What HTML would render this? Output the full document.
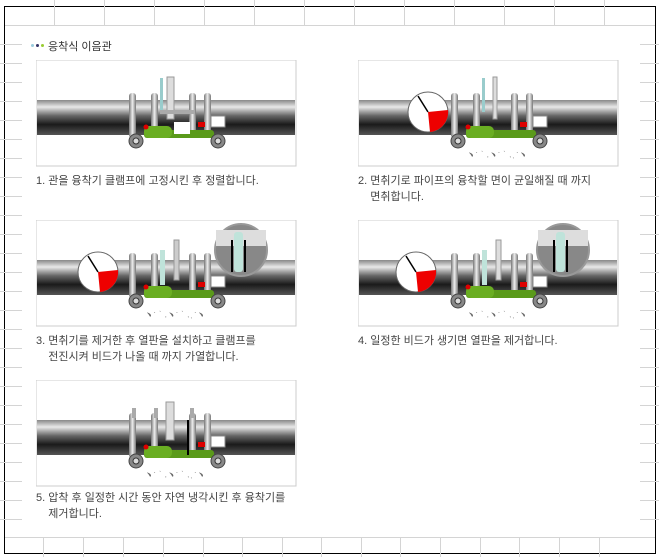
<!DOCTYPE html>
<html><head><meta charset="utf-8"><style>
body{margin:0;width:659px;height:557px;background:#fff;position:relative;overflow:hidden;font-family:"Liberation Sans","Noto Sans CJK KR",sans-serif}
.a{position:absolute}
.hl{position:absolute;height:1px;background:#d4d4d4}
.vl{position:absolute;width:1px;background:#d4d4d4}
.cap{position:absolute;font-size:11px;color:#444;line-height:16px}
svg.p{position:absolute}
</style></head><body>
<svg width="0" height="0" style="position:absolute">
<defs>
<linearGradient id="pg" x1="0" y1="0" x2="0" y2="1">
<stop offset="0" stop-color="#888"/><stop offset="0.2" stop-color="#e8e8e8"/><stop offset="0.45" stop-color="#666"/><stop offset="0.7" stop-color="#1a1a1a"/><stop offset="1" stop-color="#555"/></linearGradient>
<linearGradient id="cg" x1="0" y1="0" x2="1" y2="0"><stop offset="0" stop-color="#777"/><stop offset="0.5" stop-color="#eee"/><stop offset="1" stop-color="#777"/></linearGradient>
<g id="base">
<rect x="0" y="0" width="260" height="106" fill="#fff" stroke="#ccc"/>
<rect x="1" y="40" width="258" height="35" fill="url(#pg)"/>
<rect x="93" y="33" width="7" height="45" rx="3" fill="url(#cg)"/>
<rect x="115" y="33" width="7" height="45" rx="3" fill="url(#cg)"/>
<rect x="153" y="33" width="7" height="45" rx="3" fill="url(#cg)"/>
<rect x="168" y="33" width="7" height="45" rx="3" fill="url(#cg)"/>
<rect x="175" y="56" width="14" height="11" fill="#fff" stroke="#888"/>
<rect x="108" y="70" width="70" height="8" rx="3" fill="#5a9a1a"/>
<rect x="108" y="66" width="28" height="12" rx="5" fill="#6aae22"/>
<circle cx="100" cy="81" r="7" fill="#888" stroke="#444"/><circle cx="100" cy="81" r="3" fill="#ddd" stroke="#333"/>
<circle cx="182" cy="81" r="7" fill="#888" stroke="#444"/><circle cx="182" cy="81" r="3" fill="#ddd" stroke="#333"/>
<circle cx="110" cy="67" r="2.5" fill="#d00"/>
<rect x="162" y="62" width="7" height="5" fill="#d00"/>
</g>
<g id="chips" fill="#777"><text x="110" y="97" font-size="6" fill="#666" font-family="Liberation Sans">﹅ ` ‵ , ﹅ ` ‵ , ˎ ` ﹅</text></g>
<g id="gauge"><circle cx="62" cy="52" r="20" fill="#fff" stroke="#666"/><path d="M62 52 L82 50 A20 20 0 0 1 64 72 Z" fill="#e00"/><line x1="62" y1="52" x2="52" y2="36" stroke="#000" stroke-width="1.5"/></g>
<g id="mag"><circle cx="205" cy="30" r="26" fill="#888" stroke="#999" stroke-width="2"/><rect x="180" y="10" width="50" height="16" fill="#ddd"/><rect x="198" y="12" width="9" height="40" rx="3" fill="#bfe3da"/><line x1="196" y1="20" x2="196" y2="52" stroke="#000" stroke-width="2"/><line x1="209" y1="20" x2="209" y2="52" stroke="#000" stroke-width="2"/></g>
</defs></svg>

<div class="a" style="left:4px;top:6px;width:650px;height:546px;border:1px solid #000"></div>
<div class="hl" style="left:5px;top:25px;width:650px"></div>
<div class="hl" style="left:5px;top:537px;width:650px"></div>
<div class="vl" style="left:54px;top:0;height:25px"></div><div class="vl" style="left:104px;top:0;height:25px"></div><div class="vl" style="left:154px;top:0;height:25px"></div><div class="vl" style="left:204px;top:0;height:25px"></div><div class="vl" style="left:254px;top:0;height:25px"></div><div class="vl" style="left:304px;top:0;height:25px"></div><div class="vl" style="left:354px;top:0;height:25px"></div><div class="vl" style="left:404px;top:0;height:25px"></div><div class="vl" style="left:454px;top:0;height:25px"></div><div class="vl" style="left:504px;top:0;height:25px"></div><div class="vl" style="left:554px;top:0;height:25px"></div><div class="vl" style="left:604px;top:0;height:25px"></div>
<div class="vl" style="left:43px;top:537px;height:20px"></div><div class="vl" style="left:83px;top:537px;height:20px"></div><div class="vl" style="left:123px;top:537px;height:20px"></div><div class="vl" style="left:163px;top:537px;height:20px"></div><div class="vl" style="left:203px;top:537px;height:20px"></div><div class="vl" style="left:242px;top:537px;height:20px"></div><div class="vl" style="left:282px;top:537px;height:20px"></div><div class="vl" style="left:321px;top:537px;height:20px"></div><div class="vl" style="left:361px;top:537px;height:20px"></div><div class="vl" style="left:400px;top:537px;height:20px"></div><div class="vl" style="left:440px;top:537px;height:20px"></div><div class="vl" style="left:480px;top:537px;height:20px"></div><div class="vl" style="left:519px;top:537px;height:20px"></div><div class="vl" style="left:559px;top:537px;height:20px"></div><div class="vl" style="left:599px;top:537px;height:20px"></div>
<div id="lg"></div>
<script>
var s='';for(var y=44;y<537;y+=19){s+='<div class="hl" style="left:0;top:'+y+'px;width:22px"></div><div class="hl" style="left:640px;top:'+y+'px;width:19px"></div>';}
document.getElementById('lg').innerHTML=s;
</script>

<div class="a" style="left:31px;top:44px;width:3px;height:3px;border-radius:2px;background:#9cd"></div>
<div class="a" style="left:36px;top:44px;width:3px;height:3px;border-radius:2px;background:#336"></div>
<div class="a" style="left:41px;top:44px;width:3px;height:3px;border-radius:2px;background:#9c3"></div>
<div class="a" style="left:48px;top:38px;font-size:11px;color:#333">응착식 이음관</div>

<svg class="p" style="left:36px;top:60px" width="261" height="107"><use href="#base"/><rect x="124" y="18" width="3" height="34" fill="#9cc"/><rect x="131" y="17" width="7" height="42" fill="#ddd" stroke="#999"/><rect x="124" y="50" width="35" height="4" fill="#aaa"/><rect x="138" y="62" width="16" height="12" fill="#fff"/></svg>
<div class="cap" style="left:36px;top:173px">1. 관을 융착기 클램프에 고정시킨 후 정렬합니다.</div>

<svg class="p" style="left:358px;top:60px" width="261" height="107"><use href="#base"/><use href="#gauge" transform="translate(8,0)"/><rect x="124" y="18" width="3" height="34" fill="#9cc"/><rect x="135" y="17" width="4" height="42" fill="#ddd" stroke="#999"/><use href="#chips"/></svg>
<div class="cap" style="left:358px;top:173px">2. 면취기로 파이프의 융착할 면이 균일해질 때 까지<br>&nbsp;&nbsp;&nbsp;&nbsp;면취합니다.</div>

<svg class="p" style="left:36px;top:220px" width="261" height="107"><use href="#base"/><use href="#gauge"/><rect x="138" y="20" width="5" height="40" fill="#ccc" stroke="#999"/><rect x="124" y="30" width="5" height="35" fill="#bfe3da"/><use href="#mag"/><use href="#chips"/></svg>
<div class="cap" style="left:36px;top:333px">3. 면취기를 제거한 후 열판을 설치하고 클램프를<br>&nbsp;&nbsp;&nbsp;&nbsp;전진시켜 비드가 나올 때 까지 가열합니다.</div>

<svg class="p" style="left:358px;top:220px" width="261" height="107"><use href="#base"/><use href="#gauge" transform="translate(-4,0)"/><rect x="138" y="20" width="5" height="40" fill="#ddd" stroke="#999"/><rect x="124" y="30" width="5" height="35" fill="#bfe3da"/><use href="#mag"/><use href="#chips"/></svg>
<div class="cap" style="left:358px;top:333px">4. 일정한 비드가 생기면 열판을 제거합니다.</div>

<svg class="p" style="left:36px;top:380px" width="261" height="107"><use href="#base"/><rect x="96" y="28" width="4" height="10" fill="#aaa"/><rect x="118" y="28" width="4" height="10" fill="#aaa"/><rect x="130" y="22" width="8" height="38" fill="#ddd" stroke="#999"/><rect x="154" y="28" width="4" height="10" fill="#aaa"/><line x1="152" y1="40" x2="152" y2="75" stroke="#000" stroke-width="2"/><use href="#chips"/></svg>
<div class="cap" style="left:36px;top:490px">5. 압착 후 일정한 시간 동안 자연 냉각시킨 후 융착기를<br>&nbsp;&nbsp;&nbsp;&nbsp;제거합니다.</div>
</body></html>
